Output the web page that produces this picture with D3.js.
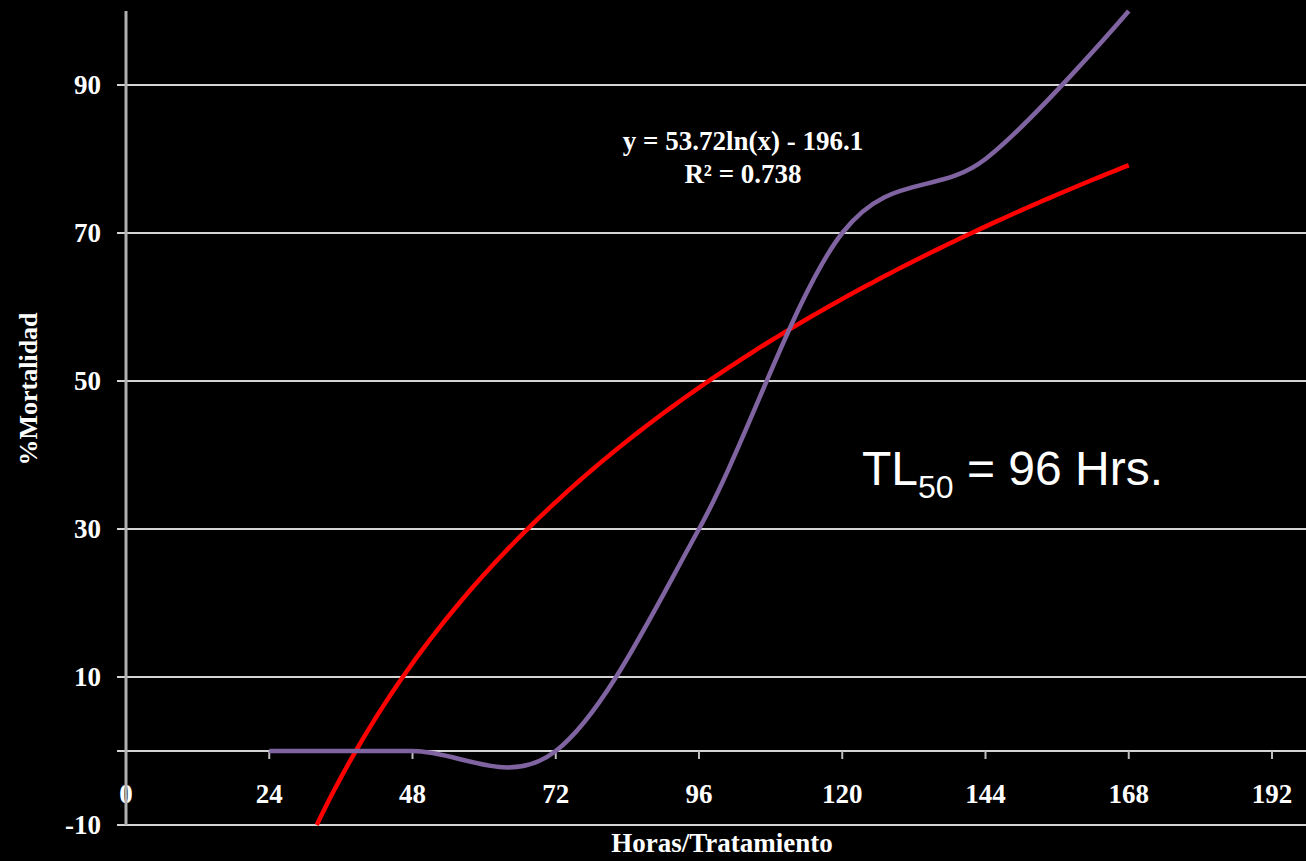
<!DOCTYPE html>
<html>
<head>
<meta charset="utf-8">
<script src="https://cdn.jsdelivr.net/npm/d3@7"></script>
<style>
  html, body { margin: 0; padding: 0; background: #000; }
  svg { display: block; }
</style>
</head>
<body>
<svg></svg>
<script>
const size = {w: 1306, h: 861};
const margin = {t: 11, r: 34, b: 36, l: 126};

// data
const hours = [24, 48, 72, 96, 120, 144, 168];
const mortality = [0, 0, 0, 30, 70, 80, 100];
const xTicks = [0, 24, 48, 72, 96, 120, 144, 168, 192];
const yTicks = [-10, 10, 30, 50, 70, 90];
// logarithmic trendline y = a ln(x) + b, as printed on the chart
const fitA = 53.72;
const fitB = -196.1;
const fitR2 = 0.738;

const svg = d3.select('svg')
    .attr('width', size.w)
    .attr('height', size.h);

const x = d3.scaleLinear()
    .domain([0, 192])
    .range([margin.l, size.w - margin.r]);

const y = d3.scaleLinear()
    .domain([-10, 100])
    .range([size.h - margin.b, margin.t]);

const serif = '"Liberation Serif", "DejaVu Serif", serif';

// horizontal gridlines
svg.append('g').classed('grid', true)
    .selectAll('line')
    .data(yTicks.concat([0]))
    .join('line')
    .attr('x1', margin.l - 9)
    .attr('x2', size.w)
    .attr('y1', d => y(d))
    .attr('y2', d => y(d))
    .attr('stroke', '#d4d4d4')
    .attr('stroke-width', 2);

// y tick labels
svg.append('g').classed('y-labels', true)
    .selectAll('text')
    .data(yTicks)
    .join('text')
    .attr('x', margin.l - 25)
    .attr('y', d => y(d))
    .attr('dy', '0.35em')
    .attr('text-anchor', 'end')
    .attr('fill', '#fff')
    .attr('font-family', serif)
    .attr('font-weight', 'bold')
    .attr('font-size', 27)
    .text(d => d);

// small ticks under the x axis (at y = 0)
svg.append('g').classed('x-ticks', true)
    .selectAll('line')
    .data(xTicks.filter(d => d > 0))
    .join('line')
    .attr('x1', d => x(d))
    .attr('x2', d => x(d))
    .attr('y1', y(0))
    .attr('y2', y(0) + 8)
    .attr('stroke', '#bdbdbd')
    .attr('stroke-width', 2);

// x tick labels
svg.append('g').classed('x-labels', true)
    .selectAll('text')
    .data(xTicks)
    .join('text')
    .attr('x', d => x(d))
    .attr('y', y(0) + 52)
    .attr('text-anchor', 'middle')
    .attr('fill', '#fff')
    .attr('font-family', serif)
    .attr('font-weight', 'bold')
    .attr('font-size', 27)
    .text(d => d);

// vertical axis line
svg.append('line')
    .attr('x1', x(0))
    .attr('x2', x(0))
    .attr('y1', y(100))
    .attr('y2', y(-10))
    .attr('stroke', '#b0b0b0')
    .attr('stroke-width', 3);

// trendline (red)
const xStart = Math.exp((-10 - fitB) / fitA);
const fitPts = d3.range(xStart, 168, 1).concat([168])
    .map(h => [h, fitA * Math.log(h) + fitB]);

svg.append('path')
    .datum(fitPts)
    .attr('fill', 'none')
    .attr('stroke', '#ff0000')
    .attr('stroke-width', 4.5)
    .attr('d', d3.line()
        .x(d => x(d[0]))
        .y(d => y(d[1])));

// data series (smoothed, purple)
svg.append('path')
    .datum(hours.map((h, i) => [h, mortality[i]]))
    .attr('fill', 'none')
    .attr('stroke', '#8064a2')
    .attr('stroke-width', 4.5)
    .attr('d', d3.line()
        .curve(d3.curveCardinal.tension(0))
        .x(d => x(d[0]))
        .y(d => y(d[1])));

// trendline equation
const eq = svg.append('text')
    .attr('x', 743)
    .attr('y', 150)
    .attr('text-anchor', 'middle')
    .attr('fill', '#fff')
    .attr('font-family', serif)
    .attr('font-weight', 'bold')
    .attr('font-size', 27);
eq.append('tspan').text(`y = ${fitA}ln(x) - ${-fitB}`);
eq.append('tspan').attr('x', 743).attr('dy', 33).text(`R² = ${fitR2}`);

// annotation
const tl = svg.append('text')
    .attr('x', 862)
    .attr('y', 485)
    .attr('fill', '#fff')
    .attr('font-family', '"Liberation Sans", Arial, sans-serif')
    .attr('font-size', 48);
tl.append('tspan').text('TL');
tl.append('tspan').attr('font-size', 32).attr('dy', 13).text('50');
tl.append('tspan').attr('dy', -13).text(' = 96 Hrs.');

// axis titles
svg.append('text')
    .attr('x', 722)
    .attr('y', 852)
    .attr('text-anchor', 'middle')
    .attr('fill', '#fff')
    .attr('font-family', serif)
    .attr('font-weight', 'bold')
    .attr('font-size', 27)
    .text('Horas/Tratamiento');

svg.append('text')
    .attr('transform', 'translate(37, 389) rotate(-90)')
    .attr('text-anchor', 'middle')
    .attr('fill', '#fff')
    .attr('font-family', serif)
    .attr('font-weight', 'bold')
    .attr('font-size', 26)
    .text('%Mortalidad');
</script>
</body>
</html>
